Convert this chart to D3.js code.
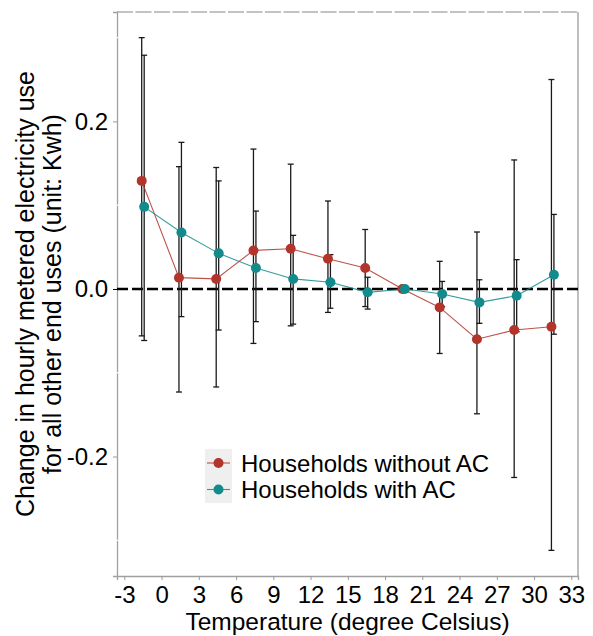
<!DOCTYPE html>
<html>
<head>
<meta charset="utf-8">
<script src="https://cdn.jsdelivr.net/npm/d3@7"></script>
<style>
  body { margin: 0; background: #fff; }
  svg text { font-family: "Liberation Sans", Arial, sans-serif; fill: #000; }
</style>
</head>
<body>
<svg id="chart" width="593" height="636"></svg>
<script>
// temperature bins (degree Celsius)
var temps = [-1.5, 1.5, 4.5, 7.5, 10.5, 13.5, 16.5, 19.5, 22.5, 25.5, 28.5, 31.5]

// households without AC
var noAC    = [0.129, 0.0135, 0.012, 0.046, 0.048, 0.036, 0.025, 0, -0.022, -0.060, -0.049, -0.045]
var noAC_lo = [-0.056, -0.123, -0.117, -0.065, -0.044, -0.028, -0.021, 0, -0.077, -0.149, -0.225, -0.312]
var noAC_hi = [0.300, 0.146, 0.145, 0.167, 0.149, 0.105, 0.071, 0, 0.033, 0.068, 0.154, 0.250]

// households with AC
var withAC    = [0.098, 0.0675, 0.0425, 0.025, 0.012, 0.008, -0.004, 0, -0.006, -0.016, -0.008, 0.017]
var withAC_lo = [-0.0615, -0.033, -0.049, -0.039, -0.042, -0.023, -0.024, 0, -0.021, -0.041, -0.051, -0.054]
var withAC_hi = [0.279, 0.175, 0.129, 0.093, 0.064, 0.041, 0.014, 0, 0.009, 0.011, 0.035, 0.089]

var xTicks = [-3, 0, 3, 6, 9, 12, 15, 18, 21, 24, 27, 30, 33]
var yTicks = [-0.2, 0.0, 0.2]
var yMinor = [-0.3, -0.1, 0.1, 0.3]

var seriesNames = ["Households without AC", "Households with AC"]
var colors = ["#b3342a", "#138a8c"]

var margin = {top: 12, right: 15, bottom: 60, left: 117}
var width = 593, height = 636
var svg = d3.select("#chart")

var xScale = d3.scaleLinear().domain([-3.59, 33.54]).range([margin.left, width - margin.right])
var yScale = d3.scaleLinear().domain([-0.3426, 0.3306]).range([height - margin.bottom, margin.top])

var dodge = 0.1
var capHalf = 0.24

var series = [
   {name: seriesNames[0], color: colors[0], off: -dodge,
    pts: temps.map((t, i) => ({t: t, v: noAC[i], lo: noAC_lo[i], hi: noAC_hi[i]}))},
   {name: seriesNames[1], color: colors[1], off: dodge,
    pts: temps.map((t, i) => ({t: t, v: withAC[i], lo: withAC_lo[i], hi: withAC_hi[i]}))}
]

// panel frame
var x0 = xScale.range()[0], x1 = xScale.range()[1]
var y0 = yScale.range()[1], y1 = yScale.range()[0]
svg.append("line").attr("x1", x0).attr("x2", x1).attr("y1", y0).attr("y2", y0)
   .attr("stroke", "#b0b0b0").attr("stroke-width", 1.3).attr("stroke-dasharray", "16,2.5")
svg.append("line").attr("x1", x1).attr("x2", x1).attr("y1", y0).attr("y2", y1)
   .attr("stroke", "#a8a8a8").attr("stroke-width", 1.5)

// axes
var yAxis = d3.axisLeft(yScale).tickValues(yTicks).tickSize(4).tickPadding(5)
   .tickFormat(d => d.toFixed(1))
var gy = svg.append("g").attr("transform", "translate(" + x0 + ",0)").call(yAxis)
gy.select(".domain").attr("stroke", "#a0a0a0").attr("stroke-width", 1.3)
gy.selectAll(".tick line").attr("stroke", d => d === 0 ? "#000" : "#999")
gy.selectAll(".tick text").style("font-size", "24px")

// minor breaks show as white nicks on the axis line
svg.selectAll(".minor").data(yMinor).join("line")
   .attr("class", "minor")
   .attr("x1", x0 - 1.5).attr("x2", x0 + 1.5)
   .attr("y1", d => yScale(d)).attr("y2", d => yScale(d))
   .attr("stroke", "#fff").attr("stroke-width", 1.2)

var xAxis = d3.axisBottom(xScale).tickValues(xTicks).tickSize(4).tickPadding(6)
   .tickFormat(d => String(d))
var gx = svg.append("g").attr("transform", "translate(0," + y1 + ")").call(xAxis)
gx.select(".domain").attr("stroke", "#a0a0a0").attr("stroke-width", 1.3)
gx.selectAll(".tick line").attr("stroke", "#999")
gx.selectAll(".tick text").style("font-size", "24px")

// axis titles
svg.append("text")
   .attr("x", (x0 + x1) / 2).attr("y", 630)
   .attr("text-anchor", "middle").style("font-size", "24.5px")
   .text("Temperature (degree Celsius)")

var yTitle = ["Change in hourly metered electricity use", "for all other end uses (unit: Kwh)"]
svg.selectAll(".ytitle").data(yTitle).join("text")
   .attr("class", "ytitle")
   .attr("transform", (d, i) => "translate(" + (34 + i * 27) + "," + ((y0 + y1) / 2) + ") rotate(-90)")
   .attr("text-anchor", "middle").style("font-size", "25px")
   .text(d => d)

// reference line at zero
svg.append("line")
   .attr("x1", x0).attr("x2", x1)
   .attr("y1", yScale(0)).attr("y2", yScale(0))
   .attr("stroke", "#000").attr("stroke-width", 2.6).attr("stroke-dasharray", "11,4")

// error bars
series.forEach(s => {
   var g = svg.append("g")
   var bars = s.pts.filter(p => p.hi !== p.lo)
   g.selectAll(".stem").data(bars).join("line")
      .attr("x1", p => xScale(p.t + s.off)).attr("x2", p => xScale(p.t + s.off))
      .attr("y1", p => yScale(p.lo)).attr("y2", p => yScale(p.hi))
   g.selectAll(".caphi").data(bars).join("line")
      .attr("x1", p => xScale(p.t + s.off - capHalf)).attr("x2", p => xScale(p.t + s.off + capHalf))
      .attr("y1", p => yScale(p.hi)).attr("y2", p => yScale(p.hi))
   g.selectAll(".caplo").data(bars).join("line")
      .attr("x1", p => xScale(p.t + s.off - capHalf)).attr("x2", p => xScale(p.t + s.off + capHalf))
      .attr("y1", p => yScale(p.lo)).attr("y2", p => yScale(p.lo))
   g.selectAll("line").attr("stroke", "#1a1a1a").attr("stroke-width", 1.3)
})

// lines and points
var line = d3.line().x(p => p.x).y(p => p.y)
series.forEach(s => {
   var xy = s.pts.map(p => ({x: xScale(p.t + s.off), y: yScale(p.v)}))
   svg.append("path").datum(xy)
      .attr("d", line).attr("fill", "none")
      .attr("stroke", s.color).attr("stroke-width", 1.1).attr("stroke-opacity", 0.85)
   svg.append("g").selectAll("circle").data(xy).join("circle")
      .attr("cx", d => d.x).attr("cy", d => d.y).attr("r", 5)
      .attr("fill", s.color)
})

// legend
var leg = svg.append("g").attr("transform", "translate(205,449)")
leg.append("rect").attr("width", 27).attr("height", 54).attr("fill", "#efefef")
series.forEach((s, i) => {
   var cy = 14 + i * 26.5
   leg.append("line").attr("x1", 2).attr("x2", 25).attr("y1", cy).attr("y2", cy)
      .attr("stroke", s.color).attr("stroke-width", 1.1).attr("stroke-opacity", 0.85)
   leg.append("circle").attr("cx", 13.5).attr("cy", cy).attr("r", 5).attr("fill", s.color)
   leg.append("text").attr("x", 36).attr("y", cy + 8.5)
      .style("font-size", "24px").text(s.name)
})
</script>
</body>
</html>
